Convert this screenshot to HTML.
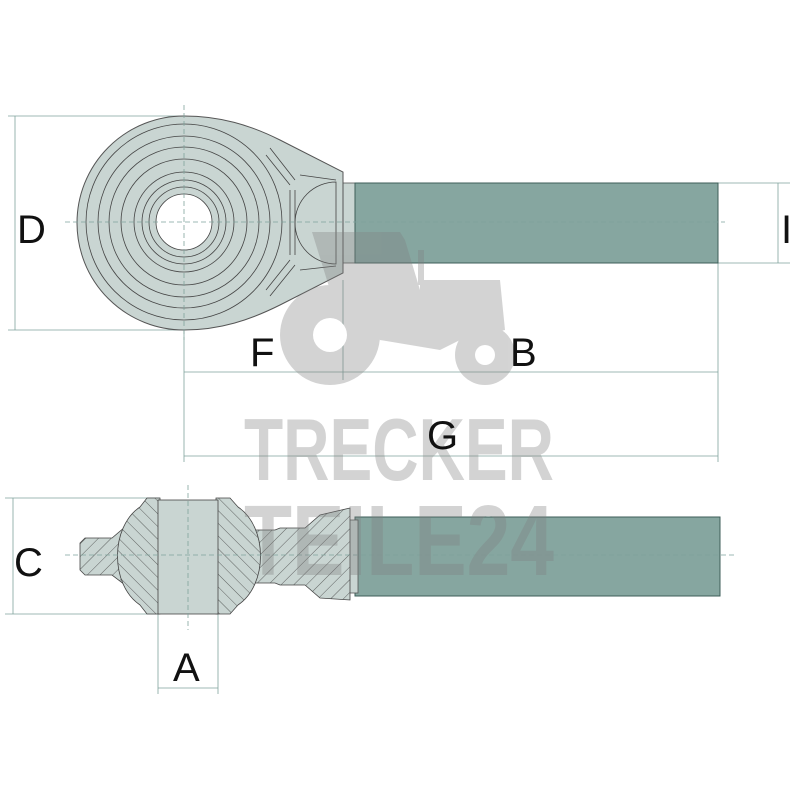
<!DOCTYPE html>
<html><head><style>body{margin:0;background:#fff}svg{display:block}</style></head><body>
<svg width="800" height="800" viewBox="0 0 800 800" xmlns="http://www.w3.org/2000/svg" font-family="Liberation Sans, sans-serif">
<defs>
<pattern id="h" width="9" height="9" patternUnits="userSpaceOnUse" patternTransform="rotate(45)">
<rect width="9" height="9" fill="#c9d5d2"/><line x1="0" y1="0" x2="0" y2="9" stroke="#444" stroke-width="0.8"/></pattern>
<pattern id="h2" width="9" height="9" patternUnits="userSpaceOnUse" patternTransform="rotate(-45)">
<rect width="9" height="9" fill="#c9d5d2"/><line x1="0" y1="0" x2="0" y2="9" stroke="#444" stroke-width="0.8"/></pattern>
</defs>
<g stroke="#7fa39c" stroke-width="0.8" fill="none">
<line x1="8" y1="116" x2="184" y2="116"/><line x1="8" y1="330" x2="184" y2="330"/>
<line x1="15" y1="116" x2="15" y2="330"/>
<line x1="718" y1="183" x2="790" y2="183"/><line x1="718" y1="263" x2="790" y2="263"/>
<line x1="778" y1="183" x2="778" y2="263"/>
<line x1="184" y1="372" x2="718" y2="372"/><line x1="184" y1="456" x2="718" y2="456"/>
<line x1="184" y1="330" x2="184" y2="462"/><line x1="343" y1="280" x2="343" y2="380"/>
<line x1="718" y1="263" x2="718" y2="462"/>
<line x1="5" y1="498" x2="160" y2="498"/><line x1="5" y1="614" x2="160" y2="614"/>
<line x1="13" y1="498" x2="13" y2="614"/>
<line x1="158" y1="614" x2="158" y2="694"/><line x1="218" y1="614" x2="218" y2="694"/>
<line x1="158" y1="688" x2="218" y2="688"/>
</g>
<!-- top view -->
<rect x="343" y="183" width="14" height="80" fill="#c9d5d2" stroke="#555" stroke-width="0.8"/>
<rect x="355" y="183" width="363" height="80" fill="#86a6a0" stroke="#3d5e58" stroke-width="1"/>
<path d="M184,116 C220,116 250,125 280,140 L343,172 L343,273 L280,305 C250,320 220,330 184,330 A107,107 0 0 1 184,116 Z" fill="#c9d5d2" stroke="#555" stroke-width="1"/>
<g fill="none" stroke="#444" stroke-width="0.8">
<circle cx="184" cy="222" r="98"/><circle cx="184" cy="222" r="86"/><circle cx="184" cy="222" r="75"/><circle cx="184" cy="222" r="63"/><circle cx="184" cy="222" r="50"/><circle cx="184" cy="222" r="42"/><circle cx="184" cy="222" r="35"/>
<path d="M270,148 L295,180 M266,155 L290,185 M295,190 L295,255 M290,190 L290,255 M270,296 L295,265 M266,290 L290,260"/>
<path d="M336,182 A40,40 0 0 0 336,264 Z M336,180 L300,175 M336,266 L300,270"/>
</g>
<circle cx="184" cy="222" r="28" fill="#fff" stroke="#444" stroke-width="0.8"/>
<!-- bottom view -->
<rect x="355" y="517" width="365" height="79" fill="#86a6a0" stroke="#3d5e58" stroke-width="1"/>
<rect x="343" y="520" width="15" height="73" fill="#c9d5d2" stroke="#555" stroke-width="0.8"/>
<path d="M85,538 L112,538 L125,527 L125,585 L112,575 L85,575 L80,570 L80,543 Z" fill="url(#h)" stroke="#444" stroke-width="0.8"/>
<path d="M255,530 L275,530 L280,528 L305,528 L320,515 L350,508 L350,600 L320,598 L305,585 L280,585 L275,583 L255,583 Z" fill="url(#h)" stroke="#444" stroke-width="0.8"/>
<path d="M147,498 L160,498 L160,614 L147,614 L140,605 C110,585 110,527 140,507 Z" fill="url(#h2)" stroke="#444" stroke-width="0.8"/>
<path d="M216,498 L230,498 L238,507 C268,527 268,585 238,605 L230,614 L216,614 Z" fill="url(#h2)" stroke="#444" stroke-width="0.8"/>
<rect x="158" y="500" width="60" height="114" fill="#c9d5d2" stroke="#444" stroke-width="0.8"/>
<g stroke="#7fa39c" stroke-width="0.8" stroke-dasharray="5,3" fill="none">
<line x1="65" y1="222" x2="725" y2="222"/><line x1="184" y1="105" x2="184" y2="340"/>
<line x1="65" y1="555" x2="735" y2="555"/><line x1="188" y1="485" x2="188" y2="630"/>
</g>
<!-- watermark -->
<g fill="#808080" opacity="0.34">
<circle cx="330" cy="335" r="50"/><circle cx="485" cy="355" r="30"/>
<path d="M312,232 L400,232 L405,240 L420,290 L420,280 L500,280 L505,330 L460,340 L440,350 L380,340 L330,290 Z"/>
<rect x="418" y="250" width="6" height="35"/>
<text x="399" y="480" font-size="88" font-weight="bold" text-anchor="middle" textLength="310" lengthAdjust="spacingAndGlyphs">TRECKER</text>
<text x="399" y="575" font-size="100" font-weight="bold" text-anchor="middle" textLength="310" lengthAdjust="spacingAndGlyphs">TEILE24</text>
</g>
<circle cx="330" cy="335" r="17" fill="#fff"/><circle cx="485" cy="355" r="10" fill="#fff"/>
<g font-size="40" fill="#111">
<text x="17" y="243">D</text><text x="781" y="243">I</text>
<text x="250" y="366">F</text><text x="510" y="366">B</text>
<text x="427" y="449">G</text><text x="14" y="576">C</text><text x="173" y="681">A</text>
</g>
</svg>
</body></html>
